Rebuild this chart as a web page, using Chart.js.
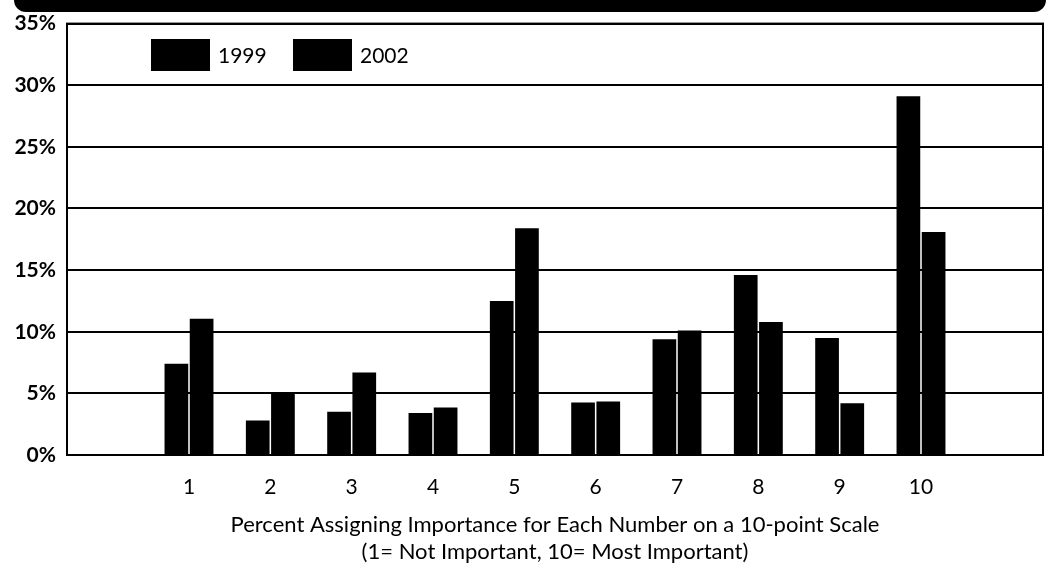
<!DOCTYPE html>
<html>
<head>
<meta charset="utf-8">
<script src="https://cdn.jsdelivr.net/npm/chart.js@4"></script>
<style>
    html, body { margin: 0; padding: 0; background: #fff; }
    #wrap { position: relative; width: 1050px; height: 570px; }
    #banner {
        position: absolute; left: 14px; top: 0; width: 1032px; height: 12px;
        background: #000; border-radius: 0 0 14px 14px;
    }
    canvas { position: absolute; left: 0; top: 0; }
</style>
</head>
<body>
<div id="wrap">
    <canvas id="chart" width="1050" height="570"></canvas>
    <div id="banner"></div>
</div>
<script>
// scale points, 1..10
const categories = ['1', '2', '3', '4', '5', '6', '7', '8', '9', '10'];
const seriesNames = ['1999', '2002'];
const values1999 = [7.4, 2.8, 3.5, 3.4, 12.5, 4.25, 9.4, 14.6, 9.5, 29.1];
const values2002 = [11.05, 5.0, 6.7, 3.85, 18.4, 4.35, 10.1, 10.8, 4.2, 18.1];
const yTicks = [0, 5, 10, 15, 20, 25, 30, 35];
const xTitle = [
    'Percent Assigning Importance for Each Number on a 10-point Scale',
    '(1= Not Important, 10= Most Important)'
];

const FONT = 'Lato, "DejaVu Sans", sans-serif';

// empty slot on each side of the scale
const labels = [''].concat(categories, ['']);
const pad = arr => [null].concat(arr, [null]);

// box around the plot area
const framePlugin = {
    id: 'frame',
    afterDraw(chart) {
        const a = chart.chartArea;
        const ctx = chart.ctx;
        ctx.save();
        ctx.strokeStyle = '#000';
        ctx.lineWidth = 2;
        ctx.strokeRect(a.left, a.top, a.right - a.left, a.bottom - a.top);
        ctx.restore();
    }
};

// legend drawn inside the plot, top left
const insideLegend = {
    id: 'insideLegend',
    afterDraw(chart) {
        const ctx = chart.ctx;
        ctx.save();
        ctx.font = '21px ' + FONT;
        ctx.textBaseline = 'middle';
        chart.data.datasets.forEach((ds, i) => {
            const x = 151 + i * 142;
            ctx.fillStyle = ds.backgroundColor;
            ctx.fillRect(x, 39, 59, 32);
            ctx.fillStyle = '#000';
            ctx.fillText(ds.label, x + 67, 56);
        });
        ctx.restore();
    }
};

new Chart(document.getElementById('chart'), {
    type: 'bar',
    data: {
        labels: labels,
        datasets: [
            { label: seriesNames[0], data: pad(values1999), backgroundColor: '#000' },
            { label: seriesNames[1], data: pad(values2002), backgroundColor: '#000' }
        ]
    },
    options: {
        responsive: false,
        animation: false,
        devicePixelRatio: 1,
        categoryPercentage: 0.62,
        barPercentage: 0.94,
        layout: { padding: { top: 23, right: 7, left: 0, bottom: 5 } },
        plugins: {
            legend: { display: false },
            tooltip: { enabled: false }
        },
        scales: {
            x: {
                grid: { display: false },
                border: { display: false },
                ticks: {
                    color: '#000',
                    padding: 12,
                    font: { family: FONT, size: 21 }
                },
                title: {
                    display: true,
                    text: xTitle,
                    color: '#000',
                    padding: { top: 0, bottom: 0 },
                    font: { family: FONT, size: 22, lineHeight: 1.2 }
                }
            },
            y: {
                min: 0,
                max: 35,
                afterFit(scale) { scale.width = 67; },
                afterBuildTicks(scale) {
                    scale.ticks = yTicks.map(v => ({ value: v }));
                },
                grid: { color: '#000', lineWidth: 2, drawTicks: false },
                border: { display: false },
                ticks: {
                    color: '#000',
                    padding: 11,
                    font: { family: FONT, size: 21, weight: 'bold' },
                    callback: v => v + '%'
                }
            }
        }
    },
    plugins: [framePlugin, insideLegend]
});
</script>
</body>
</html>
